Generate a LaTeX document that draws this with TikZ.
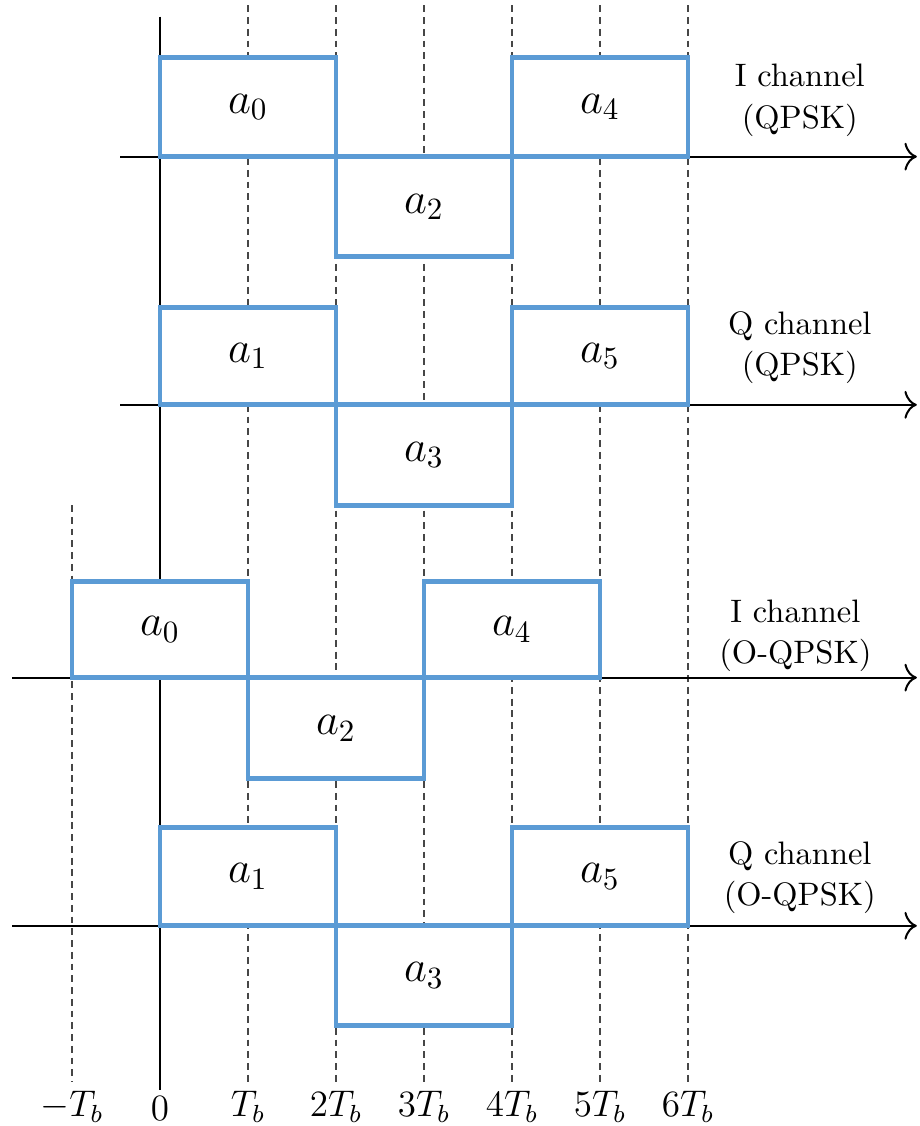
\documentclass[tikz,border=0pt]{standalone}
\usepackage{xcolor}
\usepackage{tikz}
\usetikzlibrary{arrows.meta,calc,positioning}
\usepackage{amssymb}
\usepackage{amsmath}

\definecolor{sigblue}{RGB}{91,155,213}
\tikzset{
  sig/.style={draw=sigblue, fill=white, line width=1.6pt, font=\fontsize{14.5}{16}\selectfont},
  axis/.style={line width=0.65pt, -{To[length=4pt,width=9pt]}},
  tickline/.style={gray!55!black, line width=0.55pt, dash pattern=on 2.2pt off 1.6pt},
  chan/.style={align=center, font=\fontsize{10.5}{13.3}\selectfont},
  ticklabel/.style={font=\fontsize{12}{14}\selectfont}
}

\begin{document}
\begin{tikzpicture}
\useasboundingbox (-1.818,-12.795) rectangle (8.636,0);

\foreach \k in {1,...,6}
  \draw[tickline] (\k,-0.06) -- (\k,-12.3);
\draw[tickline] (-1,-5.74) -- (-1,-12.3);

\coordinate (vtop) at (0,-0.19);
\coordinate (vbot) at (0,-12.39);
\draw[line width=0.65pt] (vtop) -- (vbot);

\coordinate (ia) at (-0.45,-1.78);   \coordinate (ib) at (8.6,-1.78);
\coordinate (qa) at (-0.45,-4.60);   \coordinate (qb) at (8.6,-4.60);
\coordinate (oia) at (-1.68,-7.70);  \coordinate (oib) at (8.6,-7.70);
\coordinate (oqa) at (-1.68,-10.52); \coordinate (oqb) at (8.6,-10.52);
\draw[axis] (ia) -- (ib);
\draw[axis] (qa) -- (qb);
\draw[axis] (oia) -- (oib);
\draw[axis] (oqa) -- (oqb);

\draw[sig] (0,-0.65) rectangle node (ia0) {$a_0$} (2,-1.78);
\draw[sig] (2,-1.78) rectangle node (ia2) {$a_2$} (4,-2.92);
\draw[sig] (4,-0.65) rectangle node (ia4) {$a_4$} (6,-1.78);

\draw[sig] (0,-3.49) rectangle node (qa1) {$a_1$} (2,-4.60);
\draw[sig] (2,-4.60) rectangle node (qa3) {$a_3$} (4,-5.74);
\draw[sig] (4,-3.49) rectangle node (qa5) {$a_5$} (6,-4.60);

\draw[sig] (-1,-6.61) rectangle node (oia0) {$a_0$} (1,-7.70);
\draw[sig] (1,-7.70) rectangle node (oia2) {$a_2$} (3,-8.85);
\draw[sig] (3,-6.61) rectangle node (oia4) {$a_4$} (5,-7.70);

\draw[sig] (0,-9.40) rectangle node (oqa1) {$a_1$} (2,-10.52);
\draw[sig] (2,-10.52) rectangle node (oqa3) {$a_3$} (4,-11.65);
\draw[sig] (4,-9.40) rectangle node (oqa5) {$a_5$} (6,-10.52);

\node[chan] (li)  at (7.27,-1.14)  {I channel\\(QPSK)};
\node[chan] (lq)  at (7.27,-3.95)  {Q channel\\(QPSK)};
\node[chan] (loi) at (7.22,-7.22)  {I channel\\(O-QPSK)};
\node[chan] (loq) at (7.27,-9.97)  {Q channel\\(O-QPSK)};

\node[ticklabel] (tm1) at (-1,-12.58) {$-T_b$};
\node[ticklabel] (t0)  at (0,-12.60)  {$0$};
\node[ticklabel] (t1)  at (1,-12.58)  {$T_b$};
\foreach \k in {2,...,6}
  \node[ticklabel] (t\k) at (\k,-12.58) {$\k T_b$};
\end{tikzpicture}
\end{document}
